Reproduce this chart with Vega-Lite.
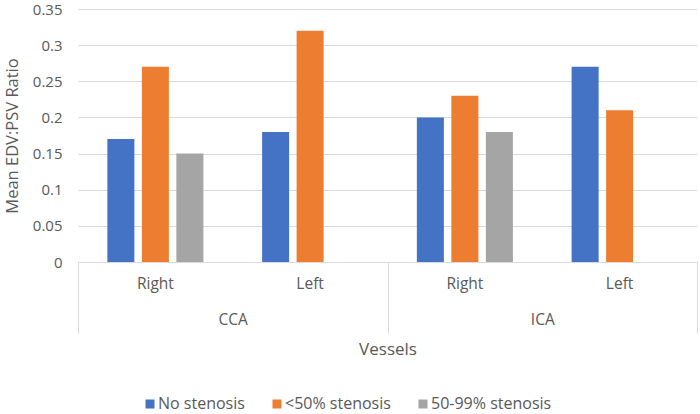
{
  "$schema": "https://vega.github.io/schema/vega-lite/v6.json",
  "width": 619,
  "height": 253,
  "autosize": {"type": "none"},
  "padding": {"left": 78, "top": 9, "right": 3, "bottom": 152},
  "config": {
    "font": "Open Sans",
    "view": {"stroke": null},
    "axis": {"labelColor": "#595959", "titleColor": "#595959", "titleFontWeight": "normal"}
  },
  "data": {
    "values": [
      {"vessel": "CCA", "side": "Right", "series": "No stenosis", "value": 0.17},
      {"vessel": "CCA", "side": "Right", "series": "<50% stenosis", "value": 0.27},
      {"vessel": "CCA", "side": "Right", "series": "50-99% stenosis", "value": 0.15},
      {"vessel": "CCA", "side": "Left", "series": "No stenosis", "value": 0.18},
      {"vessel": "CCA", "side": "Left", "series": "<50% stenosis", "value": 0.32},
      {"vessel": "ICA", "side": "Right", "series": "No stenosis", "value": 0.20},
      {"vessel": "ICA", "side": "Right", "series": "<50% stenosis", "value": 0.23},
      {"vessel": "ICA", "side": "Right", "series": "50-99% stenosis", "value": 0.18},
      {"vessel": "ICA", "side": "Left", "series": "No stenosis", "value": 0.27},
      {"vessel": "ICA", "side": "Left", "series": "<50% stenosis", "value": 0.21}
    ]
  },
  "transform": [{"calculate": "datum.vessel + ' ' + datum.side", "as": "category"}],
  "layer": [
    {
      "mark": {"type": "bar"},
      "encoding": {
        "x": {
          "field": "category",
          "type": "nominal",
          "sort": ["CCA Right", "CCA Left", "ICA Right", "ICA Left"],
          "scale": {"paddingInner": 0, "paddingOuter": 0},
          "axis": {
            "orient": "bottom",
            "title": null,
            "labelExpr": "split(datum.label, ' ')[1]",
            "labelAngle": 0,
            "ticks": false,
            "domainColor": "#d9d9d9",
            "labelPadding": 14,
            "labelFontSize": 15.5
          }
        },
        "xOffset": {
          "field": "series",
          "type": "nominal",
          "sort": ["No stenosis", "<50% stenosis", "50-99% stenosis"],
          "scale": {"paddingInner": 0.217, "paddingOuter": 0.851}
        },
        "y": {
          "field": "value",
          "type": "quantitative",
          "scale": {"domain": [0, 0.35]},
          "axis": {
            "title": "Mean EDV:PSV Ratio",
            "titleFontSize": 16.5,
            "titlePadding": 12,
            "values": [0, 0.05, 0.1, 0.15, 0.2, 0.25, 0.3, 0.35],
            "labelExpr": "datum.value == 0 ? '0' : format(datum.value, '.2~f')",
            "labelFontSize": 15,
            "labelPadding": 16,
            "domain": false,
            "ticks": false,
            "gridColor": "#d9d9d9"
          }
        },
        "color": {
          "field": "series",
          "type": "nominal",
          "scale": {
            "domain": ["No stenosis", "<50% stenosis", "50-99% stenosis"],
            "range": ["#4472C4", "#ED7D31", "#A5A5A5"]
          },
          "legend": {
            "orient": "none",
            "legendX": 64,
            "legendY": 387,
            "direction": "horizontal",
            "title": null,
            "symbolType": "square",
            "symbolSize": 81,
            "symbolStrokeWidth": 0,
            "labelFontSize": 16,
            "labelColor": "#595959",
            "labelOffset": 0,
            "columnPadding": 24
          }
        }
      }
    },
    {
      "mark": {"type": "rule", "strokeOpacity": 0},
      "encoding": {
        "x": {
          "field": "vessel",
          "type": "nominal",
          "sort": ["CCA", "ICA"],
          "scale": {"paddingInner": 0, "paddingOuter": 0},
          "axis": {
            "orient": "bottom",
            "title": "Vessels",
            "titleFontSize": 17,
            "titlePadding": 8,
            "labelAngle": 0,
            "labelFontSize": 15.5,
            "labelPadding": -21,
            "tickBand": "extent",
            "tickSize": 71,
            "tickColor": "#d9d9d9",
            "domain": false
          }
        }
      }
    }
  ],
  "resolve": {"scale": {"x": "independent"}, "axis": {"x": "independent"}}
}
